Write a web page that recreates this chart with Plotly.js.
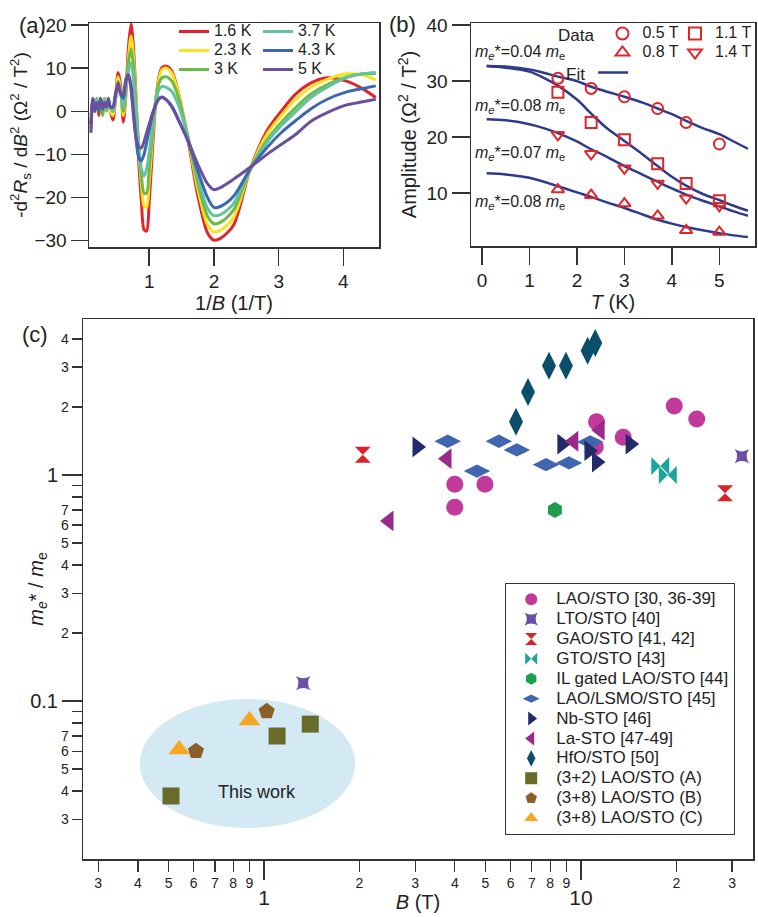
<!DOCTYPE html>
<html><head><meta charset="utf-8">
<script src="https://cdn.plot.ly/plotly-3.0.1.min.js"></script>
<style>html,body{margin:0;padding:0;background:#fff}#chart{width:758px;height:917px}</style>
</head><body><div id="chart"></div>
<script>
// ---------- Panel (a): -d2Rs/dB2 vs 1/B ----------
const invB = [0.10,0.13,0.16,0.19,0.22,0.25,0.28,0.31,0.34,0.37,0.40,
  0.44,0.48,0.52,0.56,0.60,0.64,0.68,0.72,0.76,0.80,0.84,0.88,0.92,0.96,
  1.00,1.05,1.10,1.15,1.20,
  1.27,1.35,1.45,1.60,1.75,1.90,2.00,2.10,2.30,2.56,2.82,3.05,3.25,3.50,3.75,4.05,4.30,4.50];
const d2R_1p6K = [-3,2,0,3,-1,2,0,3,1,3,0,
  -2,3,9,6,-2.5,4,15,20.3,14,2,-12,-21,-27.5,-27.8,
  -21,-9,2,8,10.2,
  10.5,9.3,4.4,-6.7,-19.5,-28.2,-29.9,-29.5,-26.5,-13.4,-4.5,0.2,3.8,6.6,7.8,7.0,5.2,3.2];
const d2R_2p3K = [-2,1,2,0,3,1,2,0,3,1,0,
  -1,3,8,5,-1,4,12.5,17.5,12,1.5,-9,-17,-22,-22.3,
  -16.5,-6.5,2.5,7.5,9.7,
  10,8.8,4.3,-6.2,-18,-26.3,-28,-27.6,-24.8,-13.4,-5.3,-0.8,2.6,5.6,7.4,8.7,8.4,7.3];
const d2R_3K = [-4,3,0,2,1,3,-1,2,2,1,1,
  0,3,7,4.5,0,5,11.5,14.5,10,0.5,-8,-15,-19,-19,
  -13.5,-5,2.5,6.5,7.8,
  8,7,3.3,-6,-16.5,-24.3,-26.1,-25.8,-23,-13.4,-6.6,-2.4,0.7,4,6.2,8.0,8.7,8.8];
const d2R_3p7K = [-1,2,1,3,0,2,1,3,0,2,1,
  0,3,6,4,1,5,9.5,11.3,7,-1,-8.5,-13.5,-15,-13.5,
  -9.5,-3.5,2,5,5.8,
  5.5,4.6,1.5,-6,-15.3,-22.5,-24.2,-24,-21.5,-13.4,-7.2,-3.2,-0.3,3.2,5.6,7.8,8.7,9.0];
const d2R_4p3K = [-3,3,1,2,0,3,1,2,1,3,1,
  1,4,6,4,3,7,8.5,6,-0.5,-7,-10.8,-11.5,-10,-7.3,
  -4.3,-1,1.5,3,3.3,
  2.6,1.2,-1.8,-7,-13.8,-20,-22.3,-22.1,-19.8,-13.4,-8.4,-4.8,-2.3,0.6,2.8,4.5,5.3,5.9];
const d2R_5K = [-5,3,0,2,1,3,0.5,2,1,2.5,1,
  1,4,6.5,4,4,7.5,8.5,5,-1.5,-6.3,-8.3,-8.5,-7,-5,
  -3,-0.5,1.5,2.8,3.2,
  2.6,1,-2,-6.8,-12.3,-16.8,-18.2,-17.7,-15.8,-13.0,-10.0,-7.6,-5.5,-2.3,-0.3,1.5,2.2,2.8];
const tempLabels = ['1.6 K','2.3 K','3 K','3.7 K','4.3 K','5 K'];
const tempSeries = [d2R_1p6K,d2R_2p3K,d2R_3K,d2R_3p7K,d2R_4p3K,d2R_5K];
const tempColors = ['#e3242b','#f9e31e','#6cbb45','#63c3a0','#3d68b1','#6b4f9e'];

// ---------- Panel (b): amplitude vs T ----------
const T_data = [1.6,2.3,3.0,3.7,4.3,5.0];
const amp_0p5T = [30.5,28.7,27.2,25.1,22.6,18.75];
const amp_0p8T = [10.6,9.6,8.1,5.9,3.3,3.0];
const amp_1p1T = [28.0,22.6,19.5,15.2,11.7,8.6];
const amp_1p4T = [20.4,17.0,14.4,11.7,9.05,7.7];
const fieldLabels = ['0.5 T','0.8 T','1.1 T','1.4 T'];
const T_fit = [0.1,0.5,1.0,1.3,1.6,2.0,2.3,2.6,3.0,3.4,3.7,4.0,4.3,4.65,5.0,5.3,5.6];
const fit_0p5T = [32.7,32.6,32.1,31.5,30.8,30.0,29.0,28.2,27.2,26.1,25.1,24.1,22.9,21.6,20.5,19.2,17.9];
const fit_1p1T = [32.7,32.4,31.7,30.6,29.2,26.7,24.2,21.8,19.3,16.8,14.8,12.9,11.3,9.8,8.7,7.7,6.8];
const fit_1p4T = [23.2,23.0,22.3,21.6,20.7,19.2,17.8,16.6,14.8,13.2,12.0,10.8,9.7,8.6,7.6,6.7,5.9];
const fit_0p8T = [13.5,13.3,12.7,12.0,11.2,10.1,9.3,8.4,7.3,6.1,5.2,4.5,3.9,3.3,2.8,2.4,2.1];
const massLabels = ['0.04','0.08','0.07','0.08'];
const massLabelT = [-0.19,-0.19,-0.19,-0.19];
const massLabelAmp = [35.2,25.4,17.1,8.2];

// ---------- Panel (c): m*/me vs B ----------
const seriesNames = ['LAO/STO [30, 36-39]','LTO/STO [40]','GAO/STO [41, 42]','GTO/STO [43]',
  'IL gated LAO/STO [44]','LAO/LSMO/STO [45]','Nb-STO [46]','La-STO [47-49]','HfO/STO [50]',
  '(3+2) LAO/STO (A)','(3+8) LAO/STO (B)','(3+8) LAO/STO (C)'];
const B_LAOSTO = [4.0,4.98,4.0,11.2,11.1,13.6,19.7,23.2];
const m_LAOSTO = [0.91,0.91,0.72,1.72,1.33,1.47,2.02,1.77];
const B_LTO = [1.33,32.2];       const m_LTO = [0.12,1.21];
const B_GAO = [2.05,28.5];       const m_GAO = [1.23,0.83];
const B_GTO = [17.8,18.8];       const m_GTO = [1.096,1.0];
const B_IL = [8.28];             const m_IL = [0.70];
const B_LSMO = [3.80,4.70,5.51,6.28,7.76,9.17,10.7];
const m_LSMO = [1.41,1.04,1.41,1.29,1.11,1.13,1.40];
const B_Nb = [3.04,8.71,10.6,11.2,14.3];   const m_Nb = [1.33,1.37,1.28,1.14,1.37];
const B_La = [2.48,3.78,9.5,11.5];         const m_La = [0.626,1.18,1.41,1.58];
const B_HfO = [6.24,6.81,7.93,8.97,10.5,11.1];
const m_HfO = [1.72,2.33,3.04,3.04,3.54,3.84];
const B_A = [0.509,1.10,1.40];   const m_A = [0.038,0.070,0.079];
const B_B = [0.61,1.02];         const m_B = [0.060,0.090];
const B_C = [0.54,0.90];         const m_C = [0.061,0.082];
const xMinorVals = [0.3,0.4,0.5,0.6,0.7,0.8,0.9,2,3,4,5,6,7,8,9,20,30];
const xMinorText = ['3','4','5','6','7','8','9','2','3','4','5','6','7','8','9','2','3'];
const xMajorVals = [1,10];
const xMajorText = ['1','10'];
const yMinorVals = [0.03,0.04,0.05,0.06,0.07,0.08,0.09,0.2,0.3,0.4,0.5,0.6,0.7,0.8,0.9,2,3,4];
const yMinorText = ['3','4','5','6','7','','','2','3','4','5','6','7','','','2','3','4'];
const yMajorVals = [0.1,1];
const yMajorText = ['0.1','1'];
const ellipseB = [0.406,1.94];
const ellipseM = [0.0274,0.102];

// ---------- styling ----------
const FONT = 'Arial, "Liberation Sans", sans-serif';
const AX = '#333';
const big = (s, px) => '<span style="font-size:' + px + 'px">' + s + '</span>';

const traces = [];
tempSeries.forEach((ys, i) => {
  traces.push({x: invB, y: ys, xaxis: 'x', yaxis: 'y', type: 'scatter', mode: 'lines',
    name: big(tempLabels[i], 16), legend: i < 3 ? 'legend2' : 'legend3',
    line: {color: tempColors[i], width: 3, shape: 'spline', smoothing: 0.8}});
});

const fits = [fit_0p5T, fit_1p1T, fit_1p4T, fit_0p8T];
fits.forEach((ys, i) => {
  traces.push({x: T_fit, y: ys, xaxis: 'x2', yaxis: 'y2', type: 'scatter', mode: 'lines',
    name: '', legend: 'legend6', showlegend: i === 0,
    line: {color: '#2e3a8c', width: 2.5, shape: 'spline'}});
});
const ampSeries = [amp_0p5T, amp_0p8T, amp_1p1T, amp_1p4T];
const ampSymbols = ['circle-open','triangle-up-open','square-open','triangle-down-open'];
ampSeries.forEach((ys, i) => {
  traces.push({x: T_data, y: ys, xaxis: 'x2', yaxis: 'y2', type: 'scatter', mode: 'markers',
    name: big(fieldLabels[i], 16), legend: i < 2 ? 'legend4' : 'legend5',
    marker: {symbol: ampSymbols[i], size: 11, color: '#e0262b', line: {width: 2, color: '#e0262b'}}});
});

// invisible traces so the overlay axes carrying the decade labels are drawn
traces.push({x: [], y: [], xaxis: 'x4', yaxis: 'y3', type: 'scatter', mode: 'markers', showlegend: false, hoverinfo: 'skip'});
traces.push({x: [], y: [], xaxis: 'x3', yaxis: 'y4', type: 'scatter', mode: 'markers', showlegend: false, hoverinfo: 'skip'});

const cB = [B_LAOSTO,B_LTO,B_GAO,B_GTO,B_IL,B_LSMO,B_Nb,B_La,B_HfO,B_A,B_B,B_C];
const cM = [m_LAOSTO,m_LTO,m_GAO,m_GTO,m_IL,m_LSMO,m_Nb,m_La,m_HfO,m_A,m_B,m_C];
const cSym = ['circle','star-square','hourglass','bowtie','hexagon','diamond-wide','triangle-right',
  'triangle-left','diamond-tall','square','pentagon','triangle-up'];
const cCol = ['#c2399c','#6a4fa3','#d7232a','#1ba39c','#1f9e4c','#4166b0','#232a6b','#9a2a8a',
  '#0b4e6b','#696b2a','#8b5f2a','#f5a623'];
const cSize = [17,13,16,18,16,19,18,18,20,17,17,19];
cB.forEach((xs, i) => {
  traces.push({x: xs, y: cM[i], xaxis: 'x3', yaxis: 'y3', type: 'scatter', mode: 'markers',
    name: big(seriesNames[i], 17), legend: 'legend',
    marker: {symbol: cSym[i], size: cSize[i], color: cCol[i], line: {width: 0}}});
});

const baseAx = {showline: true, mirror: true, linecolor: AX, linewidth: 1.5, ticks: 'outside',
  tickcolor: AX, tickwidth: 1.5, showgrid: false, zeroline: false, color: '#222'};

const annotations = [
  {text: '(a)', xref: 'paper', yref: 'paper', x: 17/758, y: 1 - 11/917, showarrow: false, font: {size: 22}},
  {text: '(b)', xref: 'paper', yref: 'paper', x: 402/758, y: 1 - 10/917, showarrow: false, font: {size: 22}},
  {text: '(c)', xref: 'paper', yref: 'paper', x: 20/758, y: 1 - 334/917, showarrow: false, font: {size: 22}},
  {text: 'This work', xref: 'x3', yref: 'y3', x: Math.log10(0.95), y: Math.log10(0.0395),
   showarrow: false, font: {size: 18, color: '#222'}}
];
massLabels.forEach((m, i) => {
  annotations.push({text: '<i>m<sub>e</sub></i>*=' + m + ' <i>m</i><sub>e</sub>', xref: 'x2', yref: 'y2',
    x: massLabelT[i], y: massLabelAmp[i], xanchor: 'left', showarrow: false, font: {size: 16, color: '#222'}});
});

const layout = {
  width: 758, height: 917, margin: {l: 0, r: 0, t: 0, b: 0},
  paper_bgcolor: '#fff', plot_bgcolor: 'rgba(0,0,0,0)',
  font: {family: FONT, color: '#222', size: 16},
  showlegend: true,
  xaxis: Object.assign({}, baseAx, {domain: [89/758, 379/758], anchor: 'y', range: [0.07, 4.55],
    tickvals: [1,2,3,4], ticklen: 17, tickfont: {size: 19},
    title: {text: '1/<i>B</i> (1/T)', font: {size: 20}, standoff: 4}}),
  yaxis: Object.assign({}, baseAx, {domain: [1 - 247/917, 1 - 23/917], anchor: 'x', range: [-31.5, 20.5],
    tickvals: [-30,-20,-10,0,10,20], ticklen: 17, tickfont: {size: 19},
    title: {text: '-d<sup>2</sup><i>R</i><sub>s</sub> / d<i>B</i><sup>2</sup> (Ω<sup>2</sup> / T<sup>2</sup>)', font: {size: 19}, standoff: 2}}),
  xaxis2: Object.assign({}, baseAx, {domain: [471/758, 755/758], anchor: 'y2', range: [-0.23, 5.75],
    tickvals: [0,1,2,3,4,5], ticklen: 17, tickfont: {size: 19},
    title: {text: '<i>T</i> (K)', font: {size: 20}, standoff: 4}}),
  yaxis2: Object.assign({}, baseAx, {domain: [1 - 246/917, 1 - 23/917], anchor: 'x2', range: [0.5, 40.4],
    tickvals: [10,20,30,40], ticklen: 18, tickfont: {size: 19},
    title: {text: 'Amplitude (Ω<sup>2</sup> / T<sup>2</sup>)', font: {size: 20}, standoff: 4}}),
  xaxis3: Object.assign({}, baseAx, {domain: [83/758, 753/758], anchor: 'y3', type: 'log', range: [-0.571, 1.543],
    tickmode: 'array', tickvals: xMinorVals, ticktext: xMinorText, ticklen: 11, tickwidth: 1.3, tickfont: {size: 14},
    title: {text: '<i>B</i> (T)', font: {size: 20}, standoff: 4}}),
  xaxis4: {overlaying: 'x3', anchor: 'y3', type: 'log', range: [-0.571, 1.543], side: 'bottom',
    tickmode: 'array', tickvals: xMajorVals, ticktext: xMajorText, ticks: 'outside', ticklen: 20, tickwidth: 1.3,
    tickcolor: AX, tickfont: {size: 21, color: '#222'}, showline: false, showgrid: false, zeroline: false},
  yaxis3: Object.assign({}, baseAx, {domain: [1 - 859/917, 1 - 319/917], anchor: 'x3', type: 'log', range: [-1.699, 0.690],
    tickmode: 'array', tickvals: yMinorVals, ticktext: yMinorText, ticklen: 10, tickwidth: 1.3, tickfont: {size: 14},
    title: {text: '<i>m<sub>e</sub></i>* / <i>m</i><sub>e</sub>', font: {size: 20}, standoff: 12}}),
  yaxis4: {overlaying: 'y3', anchor: 'x3', type: 'log', range: [-1.699, 0.690], side: 'left',
    tickmode: 'array', tickvals: yMajorVals, ticktext: yMajorText, ticks: 'outside', ticklen: 20, tickwidth: 1.3,
    tickcolor: AX, tickfont: {size: 20, color: '#222'}, showline: false, showgrid: false, zeroline: false},
  legend: {x: 505/758, y: 1 - 583/917, xanchor: 'left', yanchor: 'top', bgcolor: '#fff',
    bordercolor: AX, borderwidth: 1.2, font: {size: 13}, itemsizing: 'constant', itemwidth: 40, tracegroupgap: 0},
  legend2: {x: 174/758, y: 1 - 17/917, xanchor: 'left', yanchor: 'top', bgcolor: 'rgba(0,0,0,0)',
    font: {size: 12}, tracegroupgap: 0},
  legend3: {x: 258/758, y: 1 - 17/917, xanchor: 'left', yanchor: 'top', bgcolor: 'rgba(0,0,0,0)',
    font: {size: 12}, tracegroupgap: 0},
  legend4: {x: 556/758, y: 1 - 19/917, xanchor: 'left', yanchor: 'top', bgcolor: 'rgba(0,0,0,0)',
    font: {size: 12}, tracegroupgap: 0, itemsizing: 'constant',
    title: {text: 'Data', side: 'left', font: {size: 17}}},
  legend5: {x: 675/758, y: 1 - 19/917, xanchor: 'left', yanchor: 'top', bgcolor: 'rgba(0,0,0,0)',
    font: {size: 12}, tracegroupgap: 0, itemsizing: 'constant'},
  legend6: {x: 564/758, y: 1 - 58/917, xanchor: 'left', yanchor: 'top', bgcolor: 'rgba(0,0,0,0)',
    font: {size: 12}, tracegroupgap: 0,
    title: {text: 'Fit', side: 'left', font: {size: 17}}},
  shapes: [{type: 'circle', xref: 'x3', yref: 'y3', x0: ellipseB[0], x1: ellipseB[1], y0: ellipseM[0], y1: ellipseM[1],
    fillcolor: '#d3eaf4', line: {width: 0}, layer: 'below'}],
  annotations: annotations
};

Plotly.newPlot('chart', traces, layout, {staticPlot: true, displayModeBar: false});
</script>
</body></html>
